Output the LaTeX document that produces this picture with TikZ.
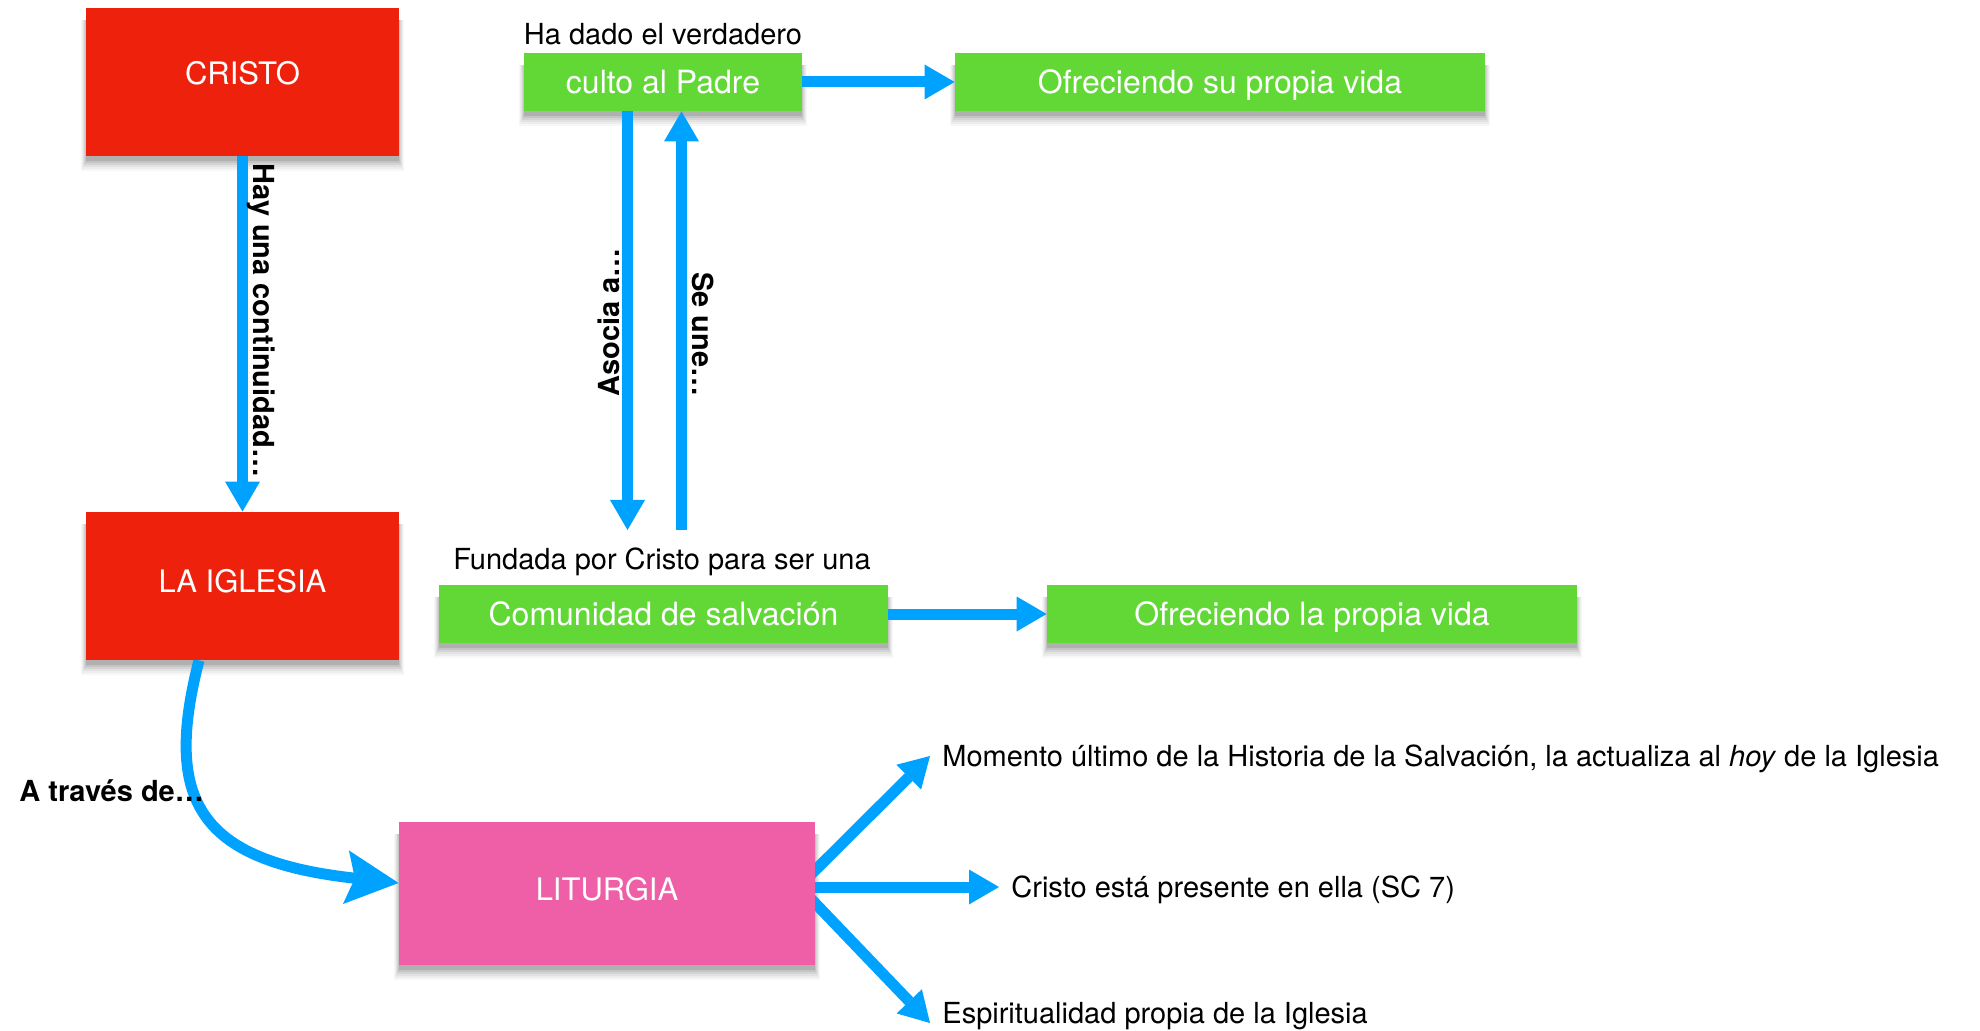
\documentclass[tikz,border=0pt]{standalone}
\usepackage{fontspec}
\setmainfont{TeX Gyre Heros}
\usetikzlibrary{arrows.meta,calc}
\definecolor{kred}{HTML}{EE220C}
\definecolor{kgreen}{HTML}{61D836}
\definecolor{kpink}{HTML}{EF5FA7}
\definecolor{kblue}{HTML}{00A2FF}
\pgfdeclarelayer{shadowlayer}
\pgfdeclarelayer{arrowlayer}
\pgfsetlayers{shadowlayer,arrowlayer,main}
\newcommand{\boxshadow}[1]{%
  \begin{pgfonlayer}{shadowlayer}
    \foreach \s/\o in {0/0.10,2/0.08,4/0.06,6/0.05,8/0.04,10/0.03}{
      \fill[black, opacity=\o] ($(#1.south west)+(-0.5*\s,5+\s)$) rectangle ($(#1.north east)+(0.5*\s,12)$);
    }
  \end{pgfonlayer}}
\tikzset{
  bigbox/.style={text=white, font=\fontsize{15.5}{18}\selectfont, inner sep=0pt,
    text height=11.1pt, minimum width=156.5pt, minimum height=74pt},
  greenbox/.style={fill=kgreen, text=white, font=\fontsize{16}{19}\selectfont, inner sep=0pt,
    text height=11.5pt, text depth=0pt, minimum height=29pt},
  arr/.style={draw=kblue, line width=5.5pt, -{Triangle[length=15pt,width=17.5pt,line width=0pt]}},
  curvarr/.style={draw=kblue, line width=5.5pt, -{Stealth[length=26.5pt,width=27pt,inset=4.5pt,line width=0pt]}},
  lbl/.style={font=\fontsize{14.5}{17}\selectfont, inner sep=0pt, text height=10.4pt, text depth=0pt},
  blbl/.style={lbl, font=\bfseries\fontsize{14.5}{17}\selectfont},
  sidelbl/.style={lbl, inner xsep=6pt, inner ysep=0pt}
}
\begin{document}
\begin{tikzpicture}[x=0.5pt, y=-0.5pt]
\useasboundingbox (0,0) rectangle (1980,1031);

% boxes
\node[bigbox, fill=kred, text depth=8.5pt] (cristo) at (242.5,82) {CRISTO};
\node[bigbox, fill=kred, text depth=5pt] (iglesia) at (242.5,586) {LA IGLESIA};
\node[bigbox, fill=kpink, text depth=4.5pt, minimum width=208pt, minimum height=71.5pt] (liturgia) at (607,893.5) {LITURGIA};
\node[greenbox, minimum width=139pt] (culto) at (663,82) {culto al Padre};
\node[greenbox, minimum width=265pt] (ofrece1) at (1220,82) {Ofreciendo su propia vida};
\node[greenbox, minimum width=224.5pt] (comunidad) at (663.5,614) {Comunidad de salvación};
\node[greenbox, minimum width=265pt] (ofrece2) at (1312,614) {Ofreciendo la propia vida};

\foreach \b in {cristo,iglesia,liturgia,culto,ofrece1,comunidad,ofrece2}{\boxshadow{\b}}

% labels
\node[lbl, anchor=base] (hadado) at (663,45) {Ha dado el verdadero};
\node[lbl, anchor=base] (fundada) at (662,569) {Fundada por Cristo para ser una};
\node[blbl, rotate=-90, anchor=base west] (hay) at (253,163) {Hay una continuidad…};
\node[blbl, rotate=90, anchor=base west] (asocia) at (619,397) {Asocia a…};
\node[blbl, rotate=-90, anchor=base west] (seune) at (692,272) {Se une…};
\node[blbl, anchor=base west] (traves) at (19,801) {A través de…};
\node[sidelbl, anchor=west] (momento) at (930,756) {Momento último de la Historia de la Salvación, la actualiza al \textit{hoy} de la Iglesia};
\node[sidelbl, anchor=west] (presente) at (999,887) {Cristo está presente en ella (SC 7)};
\node[sidelbl, anchor=base west] (espir) at (930,1023) {Espiritualidad propia de la Iglesia};

\coordinate (asocend) at (627.5,530);
\coordinate (seunestart) at (681.5,530);
\coordinate (litmid) at (liturgia.east |- presente.west);

% connectors
\begin{pgfonlayer}{arrowlayer}
  \draw[arr] (cristo.south) -- (iglesia.north);
  \draw[arr] (culto.east) -- (ofrece1.west);
  \draw[arr] (culto.south -| asocend) -- (asocend);
  \draw[arr] (seunestart) -- (culto.south -| seunestart);
  \draw[arr] (comunidad.east) -- (ofrece2.west);
  \draw[curvarr] ($(iglesia.south)+(-43.5,0)$) .. controls +(-36,140) and +(-200,-22) .. ($(liturgia.west)+(0,-10.5)$);
  \draw[arr] ($(liturgia.east)+(-10,-13.5)$) -- (momento.west);
  \draw[arr] (litmid) -- (presente.west);
  \draw[arr] ($(liturgia.east)+(-10,-0.5)$) -- (espir.base west);
\end{pgfonlayer}
\end{tikzpicture}
\end{document}
